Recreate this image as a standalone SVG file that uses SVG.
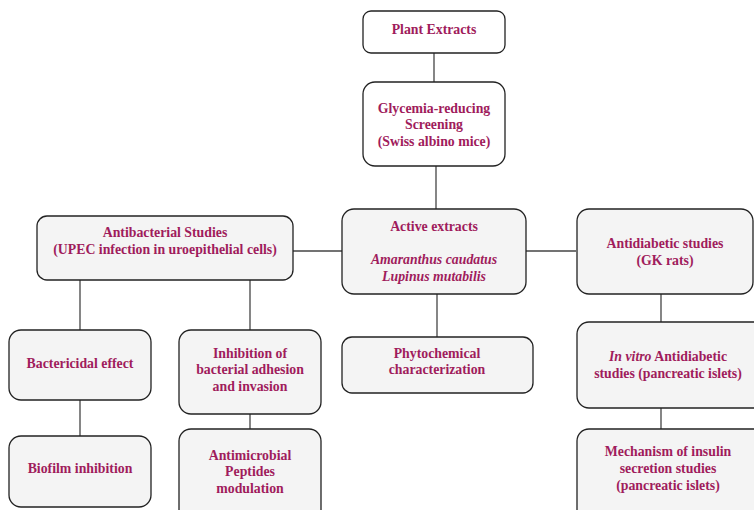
<svg xmlns="http://www.w3.org/2000/svg" width="754" height="510" viewBox="0 0 754 510">
<style>
.box{fill:#f4f4f4;stroke:#222;stroke-width:1.3}
.wbox{fill:#fff;stroke:#222;stroke-width:1.3}
.t{font-family:"Liberation Serif","Times New Roman",serif;font-weight:bold;font-size:13.8px;fill:#a01c5c;text-anchor:middle}
.i{font-style:italic}
.c{stroke:#444;stroke-width:1.3;fill:none}
</style>
<rect width="754" height="510" fill="#fff"/>
<g id="connectors">
<line class="c" x1="434" y1="53" x2="434" y2="82"/>
<line class="c" x1="436" y1="166" x2="436" y2="209"/>
<line class="c" x1="293" y1="251" x2="342" y2="251"/>
<line class="c" x1="526" y1="251" x2="576" y2="251"/>
<line class="c" x1="437" y1="294" x2="437" y2="337"/>
<line class="c" x1="661" y1="294" x2="661" y2="322"/>
<line class="c" x1="661" y1="408" x2="661" y2="429"/>
<line class="c" x1="80" y1="280" x2="80" y2="330"/>
<line class="c" x1="250" y1="280" x2="250" y2="330"/>
<line class="c" x1="80" y1="400" x2="80" y2="436"/>
<line class="c" x1="250" y1="414" x2="250" y2="429"/>
</g>
<g id="plant-extracts">
<rect class="wbox" x="363" y="11" width="142" height="42" rx="8"/>
<text class="t" x="434" y="34">Plant Extracts</text>
</g>
<g id="glycemia">
<rect class="wbox" x="363" y="82" width="142" height="84" rx="12"/>
<text class="t" x="434" y="113">Glycemia-reducing</text>
<text class="t" x="434" y="129">Screening</text>
<text class="t" x="434" y="146">(Swiss albino mice)</text>
</g>
<g id="active-extracts">
<rect class="box" x="342" y="209" width="184" height="85" rx="12"/>
<text class="t" x="434" y="231">Active extracts</text>
<text class="t i" x="434" y="264">Amaranthus caudatus</text>
<text class="t i" x="434" y="281">Lupinus mutabilis</text>
</g>
<g id="antibacterial">
<rect class="box" x="37" y="216" width="256" height="64" rx="10"/>
<text class="t" x="165" y="237">Antibacterial Studies</text>
<text class="t" x="165" y="254">(UPEC infection in uroepithelial cells)</text>
</g>
<g id="antidiabetic">
<rect class="box" x="577" y="209" width="176" height="85" rx="12"/>
<text class="t" x="665" y="248">Antidiabetic studies</text>
<text class="t" x="665" y="265">(GK rats)</text>
</g>
<g id="phytochemical">
<rect class="box" x="342" y="337" width="191" height="56" rx="10"/>
<text class="t" x="437" y="358">Phytochemical</text>
<text class="t" x="437" y="374">characterization</text>
</g>
<g id="in-vitro">
<rect class="box" x="577" y="322" width="190" height="86" rx="12"/>
<text class="t" x="668" y="361"><tspan class="i">In vitro</tspan> Antidiabetic</text>
<text class="t" x="668" y="378">studies (pancreatic islets)</text>
</g>
<g id="mechanism">
<rect class="box" x="577" y="429" width="190" height="95" rx="12"/>
<text class="t" x="668" y="456">Mechanism of insulin</text>
<text class="t" x="668" y="473">secretion studies</text>
<text class="t" x="668" y="490">(pancreatic islets)</text>
</g>
<g id="bactericidal">
<rect class="box" x="9" y="330" width="142" height="70" rx="12"/>
<text class="t" x="80" y="368">Bactericidal effect</text>
</g>
<g id="biofilm">
<rect class="box" x="9" y="436" width="142" height="71" rx="12"/>
<text class="t" x="80" y="473">Biofilm inhibition</text>
</g>
<g id="inhibition">
<rect class="box" x="179" y="330" width="142" height="84" rx="12"/>
<text class="t" x="250" y="358">Inhibition of</text>
<text class="t" x="250" y="374">bacterial adhesion</text>
<text class="t" x="250" y="391">and invasion</text>
</g>
<g id="antimicrobial">
<rect class="box" x="179" y="429" width="142" height="95" rx="12"/>
<text class="t" x="250" y="460">Antimicrobial</text>
<text class="t" x="250" y="476">Peptides</text>
<text class="t" x="250" y="493">modulation</text>
</g>
</svg>
